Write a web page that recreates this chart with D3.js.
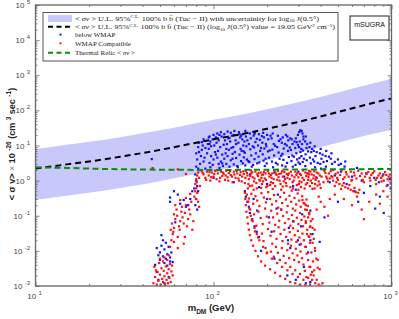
<!DOCTYPE html>
<html>
<head>
<meta charset="utf-8">
<script src="https://cdn.jsdelivr.net/npm/d3@7"></script>
<style>
body{margin:0;background:#fff;}
</style>
</head>
<body>
<script>
// 上限曲线和不确定带 (GeV, 1e-26 cm^3/s)
var massGrid  = [10, 15, 20, 30, 50, 70, 100, 150, 200, 300, 500, 700, 1000];
var limitLine = [2.2, 2.9, 3.5, 4.8, 7.5, 10.5, 15, 22, 30, 47, 90, 140, 220];
var bandUpper = [7.9, 10.5, 12.7, 17.3, 27, 38, 54, 79, 108, 170, 325, 505, 790];
var bandLower = [0.28, 0.37, 0.45, 0.62, 0.96, 1.35, 1.9, 2.8, 3.8, 6.2, 12, 18.5, 28];
// 热遗迹截面
var relicMass  = [10, 15, 20, 30, 50, 100, 200, 500, 1000];
var relicValue = [2.4, 2.3, 2.2, 2.1, 2.05, 2.0, 2.05, 2.1, 2.15];

var xTickLabels = ["1", "2", "3"];
var yTickLabels = ["-3", "-2", "-1", "0", "1", "2", "3", "4", "5"];

// below WMAP  [mass, <sigma v>]
var belowWmap = [
[48,0.012],[50,0.009],[51,0.014],[52,0.007],[53,0.011],[54,0.006],[55,0.008],[56,0.013],[50,0.0055],[53,0.0045],
[57,0.0065],[58,0.009],[49,0.0075],[55,0.0038],[52,0.02],[51,0.028],[54,0.017],[57,0.005],[47,0.004],[59,0.0048],
[49,0.0015],[53,0.0012],[56,0.0018],[48,0.0025],
[57,0.33],[61,0.065],[65,0.22],[70,0.18],[74,0.3],[76,0.5],[60,0.5],[57,0.25],[63,0.4],[68,0.28],[72,0.2],[78,0.6],
[45,4.1],[45.5,2.2],
[79,1.5],[80,2.5],[81,4],[80,6],[82,9],[83,12],[84,3],[85,5],[86,7.5],[87,10],[88,15],[89,4.5],[90,2.2],[92,6],[93,11],[94,17],
[80,1.0],[81,0.7],[82,0.5],[80,0.3],[79,0.2],[81,0.15],
[95,18],[96,13],[94,8],[97,5],[95,3.2],[96,2.4],
[100,20],[99,15],[101,10],[102,6.5],[100,4],[99,2.8],
[105,22],[104,12],[106,7],[105,4.5],[107,3],[103,17],
[110,24],[111,18],[109,9],[112,5.5],[110,3.5],[108,2.3],
[115,21],[116,14],[114,10.5],[117,6],[115,4.2],[113,2.6],
[120,25],[121,16],[119,11],[122,7.5],[120,5],[118,3],
[125,23],[127,19],[124,13],[126,8.5],[128,5.8],[125,3.8],[123,2.5],
[131,26],[130,20],[133,14],[129,9],[132,6.5],[134,4.4],[130,2.9],
[139,24],[141,17],[138,12],[142,8],[140,5.5],[143,3.6],[137,2.4],
[146,21],[145,15],[147,10],[144,7],[148,4.6],[146,3.1],
[151,26],[152,18],[149,13],[153,9.5],[150,6.2],[154,4],[151,2.7],
[160,22],[162,16],[158,11],[161,7.8],[163,5.2],[159,3.4],[164,2.5],
[171,24],[168,19],[172,12.5],[169,8.8],[173,6],[170,4.1],[167,2.8],
[180,21],[182,14.5],[178,10],[183,7],[179,4.8],[181,3.3],
[190,23],[192,17],[188,12],[193,8.2],[189,5.6],[191,3.7],[194,2.6],
[200,20],[203,15],[198,9.5],[202,6.8],[205,4.5],[199,3.1],
[215,22],[212,16],[218,11],[214,7.6],[219,5.2],[213,3.5],[216,2.4],
[230,19],[233,13.5],[228,9],[232,6.3],[235,4.2],[229,2.9],
[245,17],[242,12],[248,8.2],[244,5.8],[247,3.9],[243,2.7],
[260,18],[263,14],[258,10],[262,7],[265,4.7],[259,3.2],
[275,15],[278,11],[272,7.5],[277,5.2],[274,3.6],[279,2.5],
[290,16],[293,12.5],[288,8.5],[292,6],[295,4],[289,2.8],
[303,24],[307,27],[305,13],[302,9],[308,6.5],[304,4.4],[306,3],
[313,26],[316,22],[314,11],[318,7.2],[312,5],[317,3.4],
[330,18],[327,13],[333,8.5],[329,5.6],[334,3.8],[328,2.6],
[350,12],[346,9],[354,6.5],[348,4.5],[352,3.1],
[370,9.5],[366,7],[374,5],[368,3.5],[372,2.4],
[400,8],[396,6],[404,4.2],[398,3],[402,2.2],
[430,7],[426,5],[434,3.6],[428,2.5],
[460,6],[456,4.2],[464,3],
[500,4],[505,2.8],[550,3.5],[545,2.5],
[97,9.5],[103,5.5],[107,14],[112,3.1],[118,8],[123,16.5],[128,4.2],[134,11],[136,2.6],[143,19],[148,6.8],[155,14],
[157,3.6],[166,9.5],[175,15.5],[176,3.1],[185,8.5],[187,18.5],[196,4.2],[197,11],[207,7.2],[209,19],[222,9.8],[224,3.2],
[238,15],[240,5.1],[252,11],[254,2.5],[268,8.8],[270,16],[283,4.8],[285,13],[298,10.5],[300,3.3],[311,8],[320,15],
[322,4.2],[336,11],[340,6.8],[358,8],[362,4],[380,6.5],[385,3.2],[410,5.5],[415,3.4],[445,4.8],[480,3.4],[520,3],
[108,20],[140,21],[170,21.5],[255,20],[298,20],[320,18],[95,11],[90,8.5],[86,12.5],[83,6.5],[82,2.2],[88,3.5],
[340,1.6],[380,1.2],[420,2.1],[450,0.9],[480,1.4],[520,1.8],[560,0.8],[600,1.3],[640,2.3],[680,1.0],[720,1.6],[760,0.7],
[800,1.2],[850,0.9],[900,1.5],[950,0.75],[980,1.1],[990,0.6],[620,0.5],[700,0.45],[860,0.35],[810,0.16],[905,0.12],[650,0.25],
[150,0.5],[152,0.35],[155,0.25],[158,0.18],[160,0.12],[165,0.08],[170,0.05],[175,0.035],[180,0.025],[212,0.035],[262,0.02],
[305,0.015],[330,0.013],[350,0.02],[360,0.03],[395,0.018],[330,0.0012],[350,0.0013],[310,0.05],[280,0.07],[240,0.15],[200,0.3],
[230,0.4],[290,0.55],[350,0.14],[420,0.09],[500,0.25],[260,0.002],[290,0.0015],[185,0.01],[220,0.006],
[168,0.3],[176,0.14],[226,0.16],[265,0.045],[298,0.02],[315,0.11],[340,0.009],[322,0.0035],[270,0.012],[205,0.09],
[100,1.2],[130,0.9],[160,1.5],[200,0.8],[250,1.3],[280,0.7],[300,1.8],[220,1.7],[180,0.65]
];

// WMAP compatible
var wmapCompatible = [
[46,0.0012],[47,0.0018],[48,0.0011],[48.5,0.0025],[49,0.0014],[50,0.0021],[50.5,0.0011],[51,0.0032],[51.5,0.0016],[52,0.0013],
[52.5,0.0027],[53,0.0019],[53.5,0.0011],[54,0.0036],[54.5,0.0015],[55,0.0023],[55.5,0.0012],[56,0.003],[56.5,0.0017],[57,0.0042],
[57.5,0.0013],[58,0.0026],[46.5,0.0035],[47.5,0.0028],[49.5,0.0045],[52,0.005],[55,0.0055],[58.5,0.0038],[59,0.002],[53,0.0065],
[50,0.006],[56,0.0075],
[57,0.013],[58,0.02],[59,0.03],[60,0.045],[58.5,0.06],[61,0.08],[60,0.11],[62,0.15],[59.5,0.035],[63,0.025],[64,0.05],[65,0.07],
[62.5,0.1],[66,0.13],[64.5,0.04],[67,0.09],[68,0.06],[69,0.12],[70,0.2],[66.5,0.18],[71,0.05],[72,0.08],[73,0.15],[74,0.11],
[75,0.25],[76,0.04],[77,0.07],[78,0.35],[79,0.5],[80,0.6],[63,0.012],[68,0.016],[61,0.2],[70,0.32],[74,0.42],[65,0.28],
[60,0.018],[69,0.025],[57.5,0.04],
[79,0.8],[80,1.1],[81,1.4],[80.5,0.9],[82,1.7],[81,0.45],[82,0.25],[83,1.2],[84,0.7],[79.5,0.3],[83,0.18],
[45.5,2.25],[70,1.55],[63,2.1],
[86,1.9],[88,1.5],[90,1.2],[92,1.8],[94,1.4],[96,1.0],[98,1.7],[100,1.3],[102,1.9],[104,1.1],[106,1.6],[108,0.95],[110,1.8],
[112,1.35],[114,1.55],[116,1.05],[118,1.9],[120,1.25],[122,1.65],[125,1.45],[128,0.9],[130,1.8],[133,1.2],[136,1.6],[139,1.0],
[142,1.75],[145,1.3],[148,1.55],[150,0.85],
[152,1.9],[155,1.4],[158,1.1],[160,0.7],[163,1.6],[166,1.25],[169,0.95],[172,1.8],[175,0.6],[178,1.35],[181,1.05],[184,1.7],
[187,0.8],[190,1.5],[194,1.15],[198,0.65],[202,1.85],[206,1.3],[210,0.9],[214,1.6],[218,1.1],[222,0.7],[226,1.45],[230,1.9],
[235,1.0],[240,0.55],[245,1.3],[250,1.75],[255,0.85],[260,1.2],[265,1.6],[270,0.65],[276,1.4],[282,1.0],[288,1.8],[294,0.75],
[300,1.25],[306,1.55],[312,0.9],[318,1.95],[325,0.6],[332,1.35],[340,1.05],[348,0.7],[356,1.5],[364,1.15],[372,0.8],[380,1.7],
[390,0.95],[400,0.62],
[162,1.95],[168,0.55],[176,1.5],[186,1.2],[196,1.6],[208,0.75],[220,1.9],[232,1.25],[248,0.95],[258,1.55],[268,1.1],[280,0.6],
[292,1.45],[304,0.95],[316,1.2],[328,1.7],[336,0.85],[344,1.5],[352,1.0],[360,0.58],[368,1.85],[376,1.25],[384,0.72],[396,1.4],
[156,0.6],[240,1.6],[300,0.55],[345,1.9],[210,1.45],[190,0.95],
[87,1.65],[91,1.05],[95,1.75],[97,1.25],[101,1.55],[105,1.95],[109,1.2],[113,1.7],[117,1.4],[121,1.0],[124,1.85],[127,1.3],
[131,1.5],[135,1.9],[138,1.15],[141,1.45],[144,0.95],[147,1.85],[151,1.2],[154,1.65],[157,0.8],[161,1.35],[165,1.75],[170,1.15],
[174,0.85],[179,1.65],[183,1.0],[188,1.45],[192,1.75],[197,1.05],[201,0.7],[205,1.6],[212,1.2],[216,0.85],[224,1.6],[228,1.05],
[234,1.55],[238,0.8],[243,1.85],[252,1.1],[257,0.7],[262,1.45],[272,1.8],[278,0.9],[285,1.25],[296,1.65],[302,0.8],[310,1.45],
[322,1.05],[335,1.6],[342,1.25],[350,1.8],[358,0.85],[366,1.4],[375,1.05],[388,1.6],[405,1.3],[415,0.9],[425,1.65],[435,1.15],
[455,1.85],[465,1.25],[485,1.55],[495,1.2],[515,1.45],[535,1.1],[555,1.75],[575,1.3],[595,1.0],[615,1.7],[635,1.15],[665,1.35],
[690,1.05],[725,1.55],[755,1.2],[785,1.65],[815,1.05],[845,1.4],[875,1.2],[905,1.0],[935,1.45],[965,1.3],[995,1.2],
[165,0.72],[185,0.62],[215,0.58],[245,0.68],[275,0.52],[310,0.66],[330,0.78],[370,0.6],[395,0.78],
[430,1.3],[450,1.15],[470,1.0],[490,0.9],[510,0.8],[530,0.72],[550,0.65],[570,0.6],[590,0.55],[610,0.5],[630,0.47],[650,0.45],
[460,1.35],[500,1.05],[540,0.85],[580,0.75],[620,0.62],[660,0.55],[440,0.95],[480,0.7],[520,0.58],
[420,1.9],[445,1.6],[470,2.0],[500,1.7],[525,1.95],[560,1.5],[590,1.8],[620,1.4],[650,1.9],[680,1.6],[710,1.3],[740,1.75],
[770,1.45],[800,1.85],[830,1.2],[860,1.6],[890,1.35],[920,1.75],[950,1.1],[980,1.5],[700,0.9],[760,1.0],[820,0.8],[880,0.95],
[940,0.7],[990,0.85],[600,1.05],[545,1.25],
[540,0.3],[600,0.2],[680,0.15],[750,0.25],[820,0.4],[900,0.5],[950,0.35],[640,0.35],[480,0.4],[700,0.08],[860,0.22],
[150,0.45],[151,0.3],[152,0.2],[153,0.13],[155,0.09],[156,0.06],[158,0.04],[160,0.028],[163,0.02],[167,0.014],[172,0.01],
[178,0.007],[185,0.005],[195,0.0038],[208,0.003],[222,0.0024],[237,0.0019],[253,0.0016],[270,0.0013],[288,0.0012],[307,0.0011],
[328,0.00105],[349,0.0011],[373,0.0012],[390,0.0011],[380,0.0015],[365,0.002],
[154,0.4],[157,0.25],[159,0.16],[162,0.1],[166,0.07],[170,0.045],[175,0.03],[181,0.02],[190,0.013],[200,0.009],[213,0.006],
[228,0.0045],[243,0.0035],[260,0.0028],[278,0.0022],[298,0.0018],[320,0.0015],[340,0.0017],[358,0.0025],[350,0.0035],
[410,0.0012],[395,0.003],[385,0.0055],[372,0.01],[360,0.017],[352,0.03],[348,0.048],[340,0.09],[335,0.146],[325,0.22],[316,0.28],
[163,0.42],[158,0.31],[167,0.22],[161,0.15],[172,0.36],[169,0.11],[176,0.27],[164,0.075],[181,0.19],[174,0.052],[186,0.44],[179,0.13],
[192,0.33],[184,0.086],[171,0.036],[197,0.24],[189,0.058],[178,0.024],[203,0.47],[195,0.16],[187,0.031],[208,0.3],[199,0.095],[191,0.019],
[213,0.21],[206,0.064],[196,0.012],[219,0.39],[211,0.14],[202,0.042],[225,0.26],[216,0.09],[209,0.027],[199,0.0085],[231,0.17],[222,0.055],
[214,0.016],[237,0.34],[228,0.115],[219,0.036],[210,0.0095],[243,0.23],[234,0.072],[226,0.022],[218,0.0068],[249,0.45],[240,0.15],[232,0.047],
[224,0.013],[255,0.29],[246,0.098],[238,0.03],[230,0.0088],[261,0.19],[252,0.062],[244,0.019],[236,0.0055],[267,0.37],[258,0.125],[250,0.04],
[242,0.012],[273,0.25],[264,0.08],[256,0.025],[248,0.0072],[279,0.16],[270,0.052],[262,0.016],[254,0.0045],[285,0.32],[276,0.105],[268,0.034],
[260,0.0105],[291,0.21],[282,0.068],[274,0.021],[266,0.0062],[297,0.43],[288,0.14],[280,0.044],[272,0.014],[303,0.27],[294,0.088],[286,0.028],
[278,0.0085],[270,0.0035],[309,0.18],[300,0.058],[292,0.018],[284,0.0055],[315,0.36],[306,0.12],[298,0.037],[290,0.0115],[321,0.23],[312,0.076],
[304,0.024],[296,0.0074],[288,0.0028],[327,0.15],[318,0.05],[310,0.0155],[302,0.0048],[333,0.29],[324,0.095],[316,0.031],[308,0.0096],[339,0.19],
[330,0.062],[322,0.02],[314,0.0062],[306,0.0022],[345,0.11],[336,0.04],[328,0.013],[320,0.0041],[352,0.07],[342,0.026],[334,0.0083],[326,0.0027],
[360,0.045],[348,0.017],[340,0.0055],[332,0.0018],[366,0.022],[355,0.009],[346,0.0035],[372,0.012],[362,0.005],[352,0.0021],[378,0.006],[368,0.0028],
[385,0.0033],[358,0.0015],
[330,0.2],[345,0.12],[360,0.08],[380,0.15],[400,0.25],[420,0.18],[440,0.1],[370,0.04],[350,0.05],[335,0.03],[390,0.35],
[450,0.3],[330,0.07],[345,0.025]
];

var W = 399, H = 319;
var plotL = 35.5, plotR = 391.5, plotT = 5, plotB = 286;

var svg = d3.select("body").append("svg")
    .attr("width", W).attr("height", H)
    .style("font-family", "Liberation Sans, Arial, sans-serif");

var x = d3.scaleLog().domain([10, 1000]).range([plotL, plotR]);
var y = d3.scaleLog().domain([1e-3, 1e5]).range([plotB, plotT]);

svg.append("clipPath").attr("id", "clip")
  .append("rect").attr("x", plotL).attr("y", plotT)
  .attr("width", plotR - plotL).attr("height", plotB - plotT);

var g = svg.append("g").attr("clip-path", "url(#clip)");

// 不确定带
var band = d3.area()
    .x(function(d, i){ return x(massGrid[i]); })
    .y0(function(d, i){ return y(bandLower[i]); })
    .y1(function(d, i){ return y(bandUpper[i]); })
    .curve(d3.curveMonotoneX);
g.append("path").datum(massGrid).attr("d", band).attr("fill", "#c8c8fb");

// 散点
function drawDots(data, color){
    g.selectAll(null).data(data).enter().append("rect")
      .attr("x", function(d){ return x(d[0]) - 1.1; })
      .attr("y", function(d){ return y(d[1]) - 1.1; })
      .attr("width", 2.2).attr("height", 2.2)
      .attr("fill", color);
}
drawDots(belowWmap, "#1010ff");
drawDots(wmapCompatible, "#ff1010");

// 上限曲线
var lineFn = d3.line()
    .x(function(d, i){ return x(massGrid[i]); })
    .y(function(d){ return y(d); })
    .curve(d3.curveMonotoneX);
g.append("path").datum(limitLine).attr("d", lineFn)
  .attr("fill", "none").attr("stroke", "#000").attr("stroke-width", 2)
  .attr("stroke-dasharray", "6,4");

// 热遗迹
var relicFn = d3.line()
    .x(function(d, i){ return x(relicMass[i]); })
    .y(function(d){ return y(d); });
g.append("path").datum(relicValue).attr("d", relicFn)
  .attr("fill", "none").attr("stroke", "#118811").attr("stroke-width", 2)
  .attr("stroke-dasharray", "6,3.5");

// 坐标轴
var axisColor = "#666";
var xMajor = [10, 100, 1000];
var yMajor = [1e-3, 1e-2, 1e-1, 1, 10, 100, 1e3, 1e4, 1e5];
var xMinor = x.ticks().filter(function(t){ return xMajor.indexOf(t) < 0; });
var yMinor = y.ticks().filter(function(t){ return yMajor.indexOf(t) < 0; });

function addAxis(axis, tx, ty){
    var a = svg.append("g").attr("transform", "translate(" + tx + "," + ty + ")").call(axis);
    a.select(".domain").remove();
    a.selectAll("line").attr("stroke", axisColor).attr("stroke-width", 0.8);
    return a;
}
addAxis(d3.axisBottom(x).tickValues(xMajor).tickSize(-4).tickFormat(""), 0, plotB);
addAxis(d3.axisBottom(x).tickValues(xMinor).tickSize(-2).tickFormat(""), 0, plotB);
addAxis(d3.axisTop(x).tickValues(xMajor).tickSize(-4).tickFormat(""), 0, plotT);
addAxis(d3.axisTop(x).tickValues(xMinor).tickSize(-2).tickFormat(""), 0, plotT);
addAxis(d3.axisLeft(y).tickValues(yMajor).tickSize(-4).tickFormat(""), plotL, 0);
addAxis(d3.axisLeft(y).tickValues(yMinor).tickSize(-2).tickFormat(""), plotL, 0);
addAxis(d3.axisRight(y).tickValues(yMajor).tickSize(-4).tickFormat(""), plotR, 0);
addAxis(d3.axisRight(y).tickValues(yMinor).tickSize(-2).tickFormat(""), plotR, 0);

svg.append("rect").attr("x", plotL).attr("y", plotT)
  .attr("width", plotR - plotL).attr("height", plotB - plotT)
  .attr("fill", "none").attr("stroke", axisColor).attr("stroke-width", 1.3);

// 刻度标签
var labelColor = "#444";
yMajor.forEach(function(v, i){
    var t = svg.append("text").attr("x", 30).attr("y", y(v) + 3)
      .attr("text-anchor", "end").attr("fill", labelColor).style("font-size", "8px");
    t.append("tspan").text("10 ");
    t.append("tspan").attr("dy", -4).style("font-size", "6px").text(yTickLabels[i]);
});
xMajor.forEach(function(v, i){
    var t = svg.append("text").attr("x", x(v) - 1).attr("y", 299)
      .attr("text-anchor", "middle").attr("fill", labelColor).style("font-size", "8px");
    t.append("tspan").text("10 ");
    t.append("tspan").attr("dy", -4).style("font-size", "6px").text(xTickLabels[i]);
});

// 轴标题
var xl = svg.append("text").attr("x", 211).attr("y", 311)
  .attr("text-anchor", "middle").attr("fill", "#222")
  .style("font-size", "9.5px").style("font-weight", "bold");
xl.append("tspan").text("m");
xl.append("tspan").attr("dy", 3).style("font-size", "6.5px").text("DM");
xl.append("tspan").attr("dy", -3).text("  (GeV)");

var yl = svg.append("text").attr("transform", "translate(15,144) rotate(-90)")
  .attr("text-anchor", "middle").attr("fill", "#222")
  .style("font-size", "9px").style("font-weight", "bold");
yl.append("tspan").text("< σ v>  ");
yl.append("tspan").style("font-weight", "normal").attr("fill", "#777").text("× ");
yl.append("tspan").text("10 ");
yl.append("tspan").attr("dy", -4).style("font-size", "6.5px").text("-26");
yl.append("tspan").attr("dy", 4).text(" (cm ");
yl.append("tspan").attr("dy", -4).style("font-size", "6.5px").text("3");
yl.append("tspan").attr("dy", 4).text(" sec ");
yl.append("tspan").attr("dy", -4).style("font-size", "6.5px").text("-1");
yl.append("tspan").attr("dy", 4).text(")");

// 图例
var lg = svg.append("g");
lg.append("rect").attr("x", 43).attr("y", 12.5).attr("width", 295).attr("height", 48.5)
  .attr("fill", "#fff").attr("stroke", "#555").attr("stroke-width", 1);
var rowY = [18.5, 26.8, 34.6, 43.3, 52.8];
lg.append("rect").attr("x", 48).attr("y", rowY[0] - 3.5).attr("width", 24).attr("height", 7).attr("fill", "#c8c8fb");
lg.append("line").attr("x1", 48).attr("x2", 73).attr("y1", rowY[1]).attr("y2", rowY[1])
  .attr("stroke", "#000").attr("stroke-width", 2).attr("stroke-dasharray", "5,3.5");
lg.append("rect").attr("x", 59.5).attr("y", rowY[2] - 1).attr("width", 2).attr("height", 2).attr("fill", "#1010ff");
lg.append("rect").attr("x", 59.5).attr("y", rowY[3] - 1).attr("width", 2).attr("height", 2).attr("fill", "#ff1010");
lg.append("line").attr("x1", 48).attr("x2", 73).attr("y1", rowY[4]).attr("y2", rowY[4])
  .attr("stroke", "#118811").attr("stroke-width", 2).attr("stroke-dasharray", "5,3.5");

function legendText(row, parts, len){
    var t = lg.append("text").attr("x", 75).attr("y", rowY[row] + 2.3)
      .attr("fill", "#222").style("font-family", "Liberation Serif, Times New Roman, serif")
      .style("font-size", "7px");
    if (len) t.attr("textLength", len).attr("lengthAdjust", "spacingAndGlyphs");
    parts.forEach(function(p){
        var s = t.append("tspan").text(p[0]);
        if (p[1]) s.attr("dy", p[1]);
        if (p[2]) s.style("font-size", p[2]);
        if (p[3]) s.style("font-style", p[3]);
    });
}
legendText(0, [["< "], ["σv", 0, null, "italic"], [" >  U.L. 95%"], ["C.L.", -2.5, "4.5px"],
  [" 100% b b\u0304 (Tuc − II) with uncertainity for  log", 2.5], ["10", 1.5, "4.5px"], [" J(0.5°)", -1.5]], 244);
legendText(1, [["< "], ["σv", 0, null, "italic"], [" >  U.L. 95%"], ["C.L.", -2.5, "4.5px"],
  [" 100% b b\u0304 (Tuc − II) (log", 2.5], ["10", 1.5, "4.5px"], [" J(0.5°) value = 19.05 GeV", -1.5],
  ["2", -2.5, "4.5px"], [" cm", 2.5], ["−5", -2.5, "4.5px"], [")", 2.5]], 260);
legendText(2, [["below WMAP"]]);
legendText(3, [["WMAP Compatible"]]);
legendText(4, [["Thermal Relic < "], ["σv", 0, null, "italic"], [" >"]]);

// mSUGRA 标注
svg.append("rect").attr("x", 350).attr("y", 16).attr("width", 39).attr("height", 24)
  .attr("fill", "#fff").attr("stroke", "#222").attr("stroke-width", 1);
svg.append("text").attr("x", 369.5).attr("y", 27).attr("text-anchor", "middle")
  .attr("fill", "#111").style("font-size", "7px").text("mSUGRA");
</script>
</body>
</html>
